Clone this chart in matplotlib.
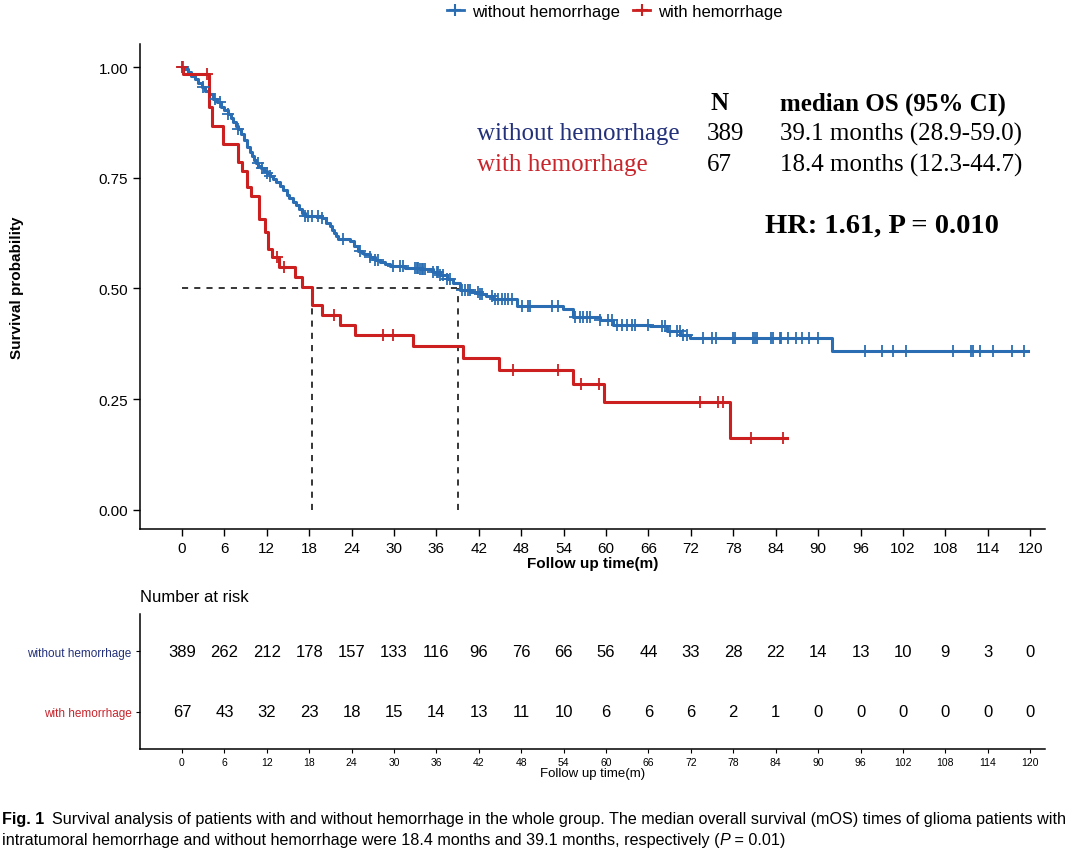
import matplotlib
matplotlib.use("Agg")
import matplotlib.pyplot as plt
from matplotlib.lines import Line2D
import numpy as np

# Kaplan-Meier curves (time in months, survival probability)
blue_t = [0, 0.3, 0.8, 1.3, 1.8, 2.3, 2.8, 3.3, 3.8, 4.4, 4.9, 5.5, 6.0, 6.5, 6.9, 7.2, 7.6,
          7.9, 8.3, 8.8, 9.2, 9.6, 9.9, 10.2, 10.5, 10.8, 11.2, 11.6, 12.0, 12.4, 12.9, 13.3,
          13.9, 14.3, 14.8, 15.2, 15.7, 16.1, 16.5, 17.0, 17.4, 19.8, 20.4, 20.9, 21.2, 21.5,
          21.8, 22.1, 23.8, 24.4, 24.9, 25.4, 25.8, 26.6, 27.3, 28.0, 28.7, 29.4, 31.5, 33.7,
          35.5, 36.5, 37.5, 38.4, 39.3, 40.8, 42.1, 43.0, 44.0, 47.4, 53.9, 55.3, 59.1, 61.0,
          66.2, 68.6, 70.5, 71.9, 91.9]
blue_s = [1.0, 0.995, 0.988, 0.98, 0.972, 0.965, 0.955, 0.947, 0.94, 0.928, 0.92, 0.91, 0.902,
          0.894, 0.884, 0.876, 0.867, 0.86, 0.848, 0.835, 0.82, 0.808, 0.799, 0.79, 0.783,
          0.777, 0.771, 0.765, 0.76, 0.754, 0.747, 0.74, 0.731, 0.722, 0.712, 0.704, 0.695,
          0.688, 0.68, 0.671, 0.664, 0.659, 0.648, 0.641, 0.633, 0.626, 0.619, 0.612, 0.607,
          0.596, 0.585, 0.581, 0.578, 0.571, 0.565, 0.56, 0.555, 0.551, 0.547, 0.544, 0.537,
          0.53, 0.521, 0.512, 0.497, 0.492, 0.488, 0.484, 0.476, 0.46, 0.454, 0.435, 0.429,
          0.418, 0.415, 0.404, 0.395, 0.388, 0.359]
blue_end = 119.7
blue_cens = [0.1, 3.0, 4.7, 5.4, 6.5, 7.9, 10.7, 11.3, 12.0, 12.4, 17.4, 17.8, 18.4, 19.2, 19.8,
             22.8, 25.2, 26.6, 27.3, 27.7, 29.8, 30.8, 31.3, 33.0, 33.2, 33.4, 33.7, 33.9, 34.1,
             34.4, 35.5, 36.1, 36.2, 36.5, 36.9, 37.5, 37.9, 39.6, 40.0, 40.5, 40.7, 41.9, 42.1,
             42.4, 43.8, 44.3, 44.7, 45.3, 45.7, 46.1, 46.7, 48.1, 48.9, 49.2, 52.3, 53.2, 55.6,
             56.3, 56.7, 57.3, 57.7, 59.1, 60.3, 60.8, 61.5, 62.2, 62.9, 63.6, 64.1, 65.9, 67.9,
             68.3, 69.0, 70.0, 70.4, 70.9, 71.4, 73.7, 75.0, 75.5, 77.9, 78.2, 80.8, 81.1, 81.3,
             83.4, 83.6, 84.6, 84.8, 85.8, 86.9, 87.7, 88.7, 90.0, 96.7, 99.0, 100.6, 102.4,
             109.1, 111.6, 111.9, 112.9, 114.7, 117.5, 119.1]

red_t = [0, 0.2, 3.8, 4.3, 5.8, 7.9, 8.5, 9.2, 9.8, 10.9, 11.7, 12.2, 12.7, 13.7, 16.0, 17.0,
         18.4, 19.8, 22.3, 24.5, 32.7, 39.7, 44.8, 55.3, 59.7, 77.5]
red_s = [1.0, 0.985, 0.91, 0.866, 0.826, 0.786, 0.766, 0.729, 0.709, 0.657, 0.627, 0.589, 0.571,
         0.548, 0.526, 0.503, 0.463, 0.44, 0.418, 0.395, 0.370, 0.343, 0.316, 0.284, 0.243, 0.163]
red_end = 85.6
red_cens = [0.0, 3.5, 13.4, 14.4, 21.5, 28.4, 29.8, 46.8, 53.2, 56.4, 59.0, 73.3, 75.8, 76.5,
            80.5, 85.0]

median_blue = 39.1
median_red = 18.4

groups = ["without hemorrhage", "with hemorrhage"]
risk_times = list(range(0, 121, 6))
risk_blue = [389, 262, 212, 178, 157, 133, 116, 96, 76, 66, 56, 44, 33, 28, 22, 14, 13, 10, 9, 3, 0]
risk_red = [67, 43, 32, 23, 18, 15, 14, 13, 11, 10, 6, 6, 6, 2, 1, 0, 0, 0, 0, 0, 0]

BLUE = "#2a6db2"
RED = "#cc1f1f"
TXT_BLUE = "#23307a"
TXT_RED = "#c8242b"

W, H = 1080, 854
fig = plt.figure(figsize=(W / 100, H / 100), dpi=100)
fig.patch.set_facecolor("white")
SANS = ["Liberation Sans", "DejaVu Sans"]
SERIF = ["Liberation Serif", "DejaVu Serif"]


def fx(px):
    return px / W


def fy(py):
    return 1 - py / H


def surv_at(t, ts, ss):
    i = np.searchsorted(ts, t, side="right") - 1
    return ss[i]


ax = fig.add_axes([fx(140), fy(530), fx(1045) - fx(140), fy(45) - fy(530)])
for ts, ss, end, cens, col in [(blue_t, blue_s, blue_end, blue_cens, BLUE),
                               (red_t, red_s, red_end, red_cens, RED)]:
    xs = list(ts) + [end]
    ys = list(ss) + [ss[-1]]
    ax.plot(xs, ys, drawstyle="steps-post", color=col, lw=2.2, zorder=3)
    cy = [surv_at(c, ts, ss) for c in cens]
    ax.plot(cens, cy, ls="none", marker="+", ms=8, mew=1.3, color=col, zorder=4)

ax.plot([0, median_blue], [0.5, 0.5], ls=(0, (4, 4)), color="black", lw=1.1, zorder=2)
for m in [median_red, median_blue]:
    ax.plot([m, m], [0, 0.5], ls=(0, (4, 4)), color="black", lw=1.1, zorder=2)

ax.set_xlim(-5.94, 122.1)
ax.set_ylim(-0.043, 1.052)
ax.set_xticks(risk_times)
ax.set_yticks([0, 0.25, 0.5, 0.75, 1.0])
ax.set_yticklabels(["0.00", "0.25", "0.50", "0.75", "1.00"])
for s in ["top", "right"]:
    ax.spines[s].set_visible(False)
for s in ["left", "bottom"]:
    ax.spines[s].set_linewidth(1.1)
ax.tick_params(length=5, width=1.0, labelsize=11, colors="black")
for lab in ax.get_xticklabels() + ax.get_yticklabels():
    lab.set_family(SANS)
ax.set_xlabel("Follow up time(m)", fontsize=11, fontweight="bold", family=SANS, labelpad=1)
ax.set_ylabel("Survival probability", fontsize=11, fontweight="bold", family=SANS, labelpad=54)

# legend at top
handles = [Line2D([], [], color=BLUE, marker="+", ms=8, mew=1.5, lw=2),
           Line2D([], [], color=RED, marker="+", ms=8, mew=1.5, lw=2)]
fig.legend(handles, groups, loc="center", bbox_to_anchor=(fx(615), fy(12)), ncol=2,
           frameon=False, prop={"family": SANS, "size": 12}, handlelength=1.0,
           handletextpad=0.5, columnspacing=0.8)

# annotation block
fs = 18
fig.text(fx(720), fy(104), "N", family=SERIF, fontsize=fs, fontweight="bold", ha="center", va="center")
fig.text(fx(780), fy(104), "median OS (95% CI)", family=SERIF, fontsize=fs, fontweight="bold", va="center")
fig.text(fx(477), fy(134), groups[0], family=SERIF, fontsize=fs, color=TXT_BLUE, va="center")
fig.text(fx(707), fy(134), "389", family=SERIF, fontsize=fs, va="center")
fig.text(fx(780), fy(134), "39.1 months (28.9-59.0)", family=SERIF, fontsize=fs, va="center")
fig.text(fx(477), fy(165), groups[1], family=SERIF, fontsize=fs, color=TXT_RED, va="center")
fig.text(fx(707), fy(165), "67", family=SERIF, fontsize=fs, va="center")
fig.text(fx(780), fy(165), "18.4 months (12.3-44.7)", family=SERIF, fontsize=fs, va="center")
fig.text(fx(765), fy(226), "HR: 1.61, P = 0.010", family=SERIF, fontsize=20.5, fontweight="bold", va="center")

# risk table
rx = fig.add_axes([fx(140), fy(750), fx(1045) - fx(140), fy(615) - fy(750)])
rx.set_xlim(-5.94, 122.1)
rx.set_ylim(0.393, 2.607)
for t, nb, nr in zip(risk_times, risk_blue, risk_red):
    rx.text(t, 2, str(nb), ha="center", va="center", fontsize=12, family=SANS)
    rx.text(t, 1, str(nr), ha="center", va="center", fontsize=12, family=SANS)
rx.set_yticks([2, 1])
rx.set_yticklabels(groups, fontsize=8.5, family=SANS)
rx.get_yticklabels()[0].set_color(TXT_BLUE)
rx.get_yticklabels()[1].set_color(TXT_RED)
rx.set_xticks(risk_times)
rx.set_xticklabels([str(t) for t in risk_times], fontsize=7.5, family=SANS)
rx.tick_params(length=3, width=0.8, pad=3)
for s in ["top", "right"]:
    rx.spines[s].set_visible(False)
for s in ["left", "bottom"]:
    rx.spines[s].set_linewidth(1.1)
rx.set_xlabel("Follow up time(m)", fontsize=9.5, family=SANS, labelpad=0)
fig.text(fx(140), fy(598), "Number at risk", fontsize=12, family=SANS, va="center")

# caption
CAP = ["Liberation Sans", "DejaVu Sans"]
cfs = 11.6
renderer = fig.canvas.get_renderer()


def put(x, y, s, **kw):
    t = fig.text(fx(x), fy(y), s, family=CAP, fontsize=cfs, va="center", **kw)
    bb = t.get_window_extent(renderer)
    return x + bb.width


x = put(2, 820, "Fig. 1", fontweight="bold")
put(x + 8, 820, "Survival analysis of patients with and without hemorrhage in the whole group. "
    "The median overall survival (mOS) times of glioma patients with")
x = put(2, 841, "intratumoral hemorrhage and without hemorrhage were 18.4 months and 39.1 months, "
        "respectively (")
x = put(x, 841, "P", style="italic")
put(x, 841, " = 0.01)")

fig.savefig("out.png", dpi=100, facecolor="white")
